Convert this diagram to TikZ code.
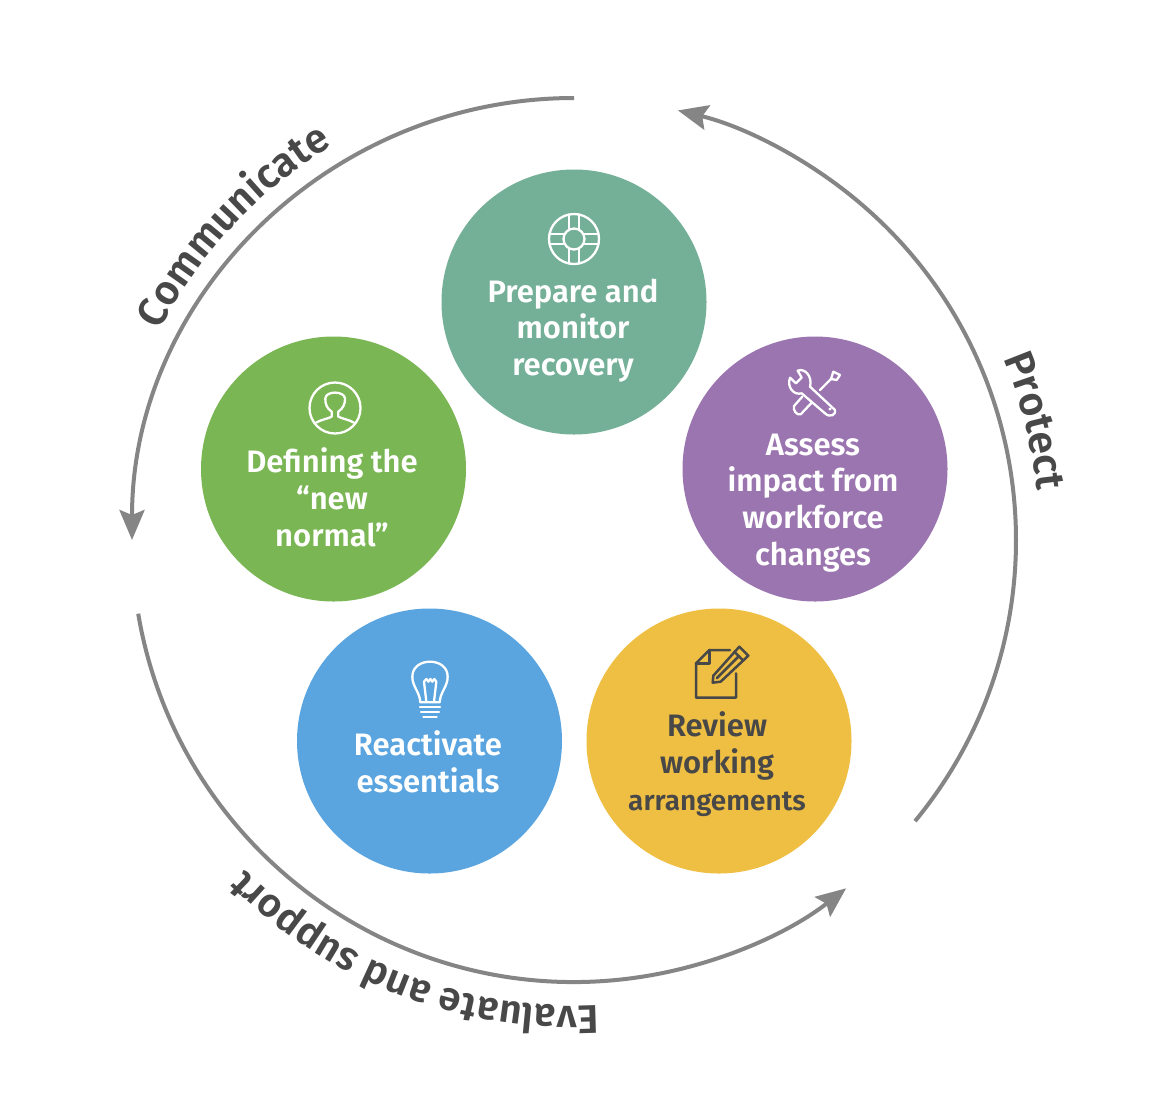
\documentclass[tikz,border=0pt]{standalone}
\usepackage{fontspec}
\setmainfont{Fira Sans}[BoldFont={Fira Sans SemiBold}]
\usetikzlibrary{arrows.meta,decorations.text}
\definecolor{cTeal}{HTML}{74B097}
\definecolor{cPurple}{HTML}{9B75AF}
\definecolor{cGreen}{HTML}{7AB653}
\definecolor{cBlue}{HTML}{5AA5DF}
\definecolor{cYellow}{HTML}{EFBF43}
\definecolor{cArc}{HTML}{858585}
\definecolor{cInk}{HTML}{484848}
\tikzset{
  disc/.style={circle,minimum size=265pt,inner sep=0pt,draw=none},
  lab/.style={align=center,font=\bfseries\fontsize{31}{36.8}\selectfont,inner sep=0pt},
  ring/.style={draw=cArc,line width=4pt,-{Stealth[length=30pt,width=25pt,inset=5pt]}},
  icoW/.style={draw=white,line width=2.3pt,line join=round,line cap=round},
  icoD/.style={draw=cInk,line width=2.5pt,line join=round,line cap=round},
  zoomed/.style={shift={#1},x=0.3333pt,y=-0.3333pt},
  curved/.style={decorate,decoration={text along path,text align=center,text={|\bfseries\fontsize{41}{41}\selectfont\color{cInk}|#1}}},
  curvedS/.style={decorate,decoration={text along path,text align=center,text={|\bfseries\fontsize{40}{40}\selectfont\color{cInk}|#1}}}
}
\begin{document}
\begin{tikzpicture}[x=1pt,y=-1pt]
\useasboundingbox (0,0) rectangle (1174,1109);
\fill[white] (0,0) rectangle (1174,1109);
\node[disc,fill=cTeal] (prep) at (574,302) {};
\node[disc,fill=cPurple] (asse) at (815,469) {};
\node[disc,fill=cGreen] (defi) at (333.5,469) {};
\node[disc,fill=cBlue] (reac) at (429.5,741) {};
\node[disc,fill=cYellow] (revi) at (719,741) {};
\node[lab,text=white] (tprep) at (573,330.5) {Prepare and\\monitor\\recovery};
\node[lab,text=white] (tasse) at (813,503) {Assess\\impact from\\workforce\\changes};
\node[lab,text=white] (tdefi) at (332,497) {Defining the\\“new\\normal”};
\node[lab,text=white] (treac) at (428,762) {Reactivate\\essentials};
\node[lab,text=cInk] (trevi) at (717,764) {Review\\working\\{\fontsize{28}{36.8}\selectfont arrangements}};
% rings and curved labels
\begin{scope}[shift={(574,540)},y=1pt]
\coordinate (hub) at (0,0);
\coordinate (hubC) at (0,-4);
\draw[ring] (hub) ++(90:442) arc[start angle=90,end angle=180,radius=442];
\draw[ring] (hub) ++(-39.5:442) arc[start angle=-39.5,end angle=76.4,radius=442];
\draw[ring] (hub) ++(189.6:442) arc[start angle=189.6,end angle=308,radius=442];
\path[curved=Communicate] (hubC) ++(175:466) arc[start angle=175,end angle=99,radius=466];
\path[curved=Protect] (hub) ++(54.5:466) arc[start angle=54.5,end angle=-25.5,radius=466];
\path[curvedS={Evaluate and support}] (hub) ++(300:466) arc[start angle=300,end angle=198,radius=466];
\end{scope}
% life ring
\begin{scope}[icoW]
\draw (574,239) circle (25);
\draw (574,239) circle (10.5);
\draw (569,214.5)--(569,229) (579,214.5)--(579,229) (569,249)--(569,263.5) (579,249)--(579,263.5);
\draw (549.5,234)--(564,234) (549.5,244)--(564,244) (584,234)--(598.5,234) (584,244)--(598.5,244);
\end{scope}
% tools
\begin{scope}[zoomed={(770,355)},icoW]
\draw (60,68)--(78,85)--(95,68)--(83,47) .. controls (105,38) and (128,65) .. (120,95)--(195,165) .. controls (200,178) and (180,190) .. (165,175)--(95,115) .. controls (70,122) and (50,95) .. (60,68)--cycle;
\fill[white,draw=none] (180,162) circle (5);
\draw (97,125)--(72,153) .. controls (68,165) and (80,182) .. (92,178)--(125,143);
\draw (150,105)--(183,72);
\draw (183,72)--(190,50)--(210,60)--(200,75)--cycle;
\end{scope}
% person
\begin{scope}[icoW]
\draw (335,408) circle (25.5);
\end{scope}
\begin{scope}[zoomed={(290,370)},icoW]
\draw (78,158) .. controls (95,148) and (115,146) .. (125,140)--(125,125) .. controls (110,115) and (105,100) .. (106,85) .. controls (108,62) and (162,62) .. (165,85) .. controls (166,100) and (160,115) .. (145,125)--(145,140) .. controls (155,146) and (175,148) .. (192,158);
\end{scope}
% bulb
\begin{scope}[zoomed={(395,650)},icoW]
\draw (76,157) .. controls (74,125) and (52,110) .. (52,80) .. controls (52,20) and (158,20) .. (158,80) .. controls (158,110) and (136,125) .. (134,157)--cycle;
\draw (94,155)--(87,95)--(94,87)--(100,95)--(106,87)--(112,95)--(118,87)--(124,95)--(117,155);
\draw (75,172)--(135,172) (78,187)--(132,187) (85,202)--(125,202);
\end{scope}
% note and pencil
\begin{scope}[zoomed={(680,635)},icoD]
\draw (150,45)--(88,45)--(48,85)--(48,188)--(168,188)--(168,115);
\draw (48,85)--(88,85)--(88,45);
\draw (98,143)--(100,122)--(178,35)--(205,62)--(122,140)--cycle;
\draw (163,50)--(190,77) (110,130)--(178,62);
\end{scope}
\end{tikzpicture}
\end{document}
